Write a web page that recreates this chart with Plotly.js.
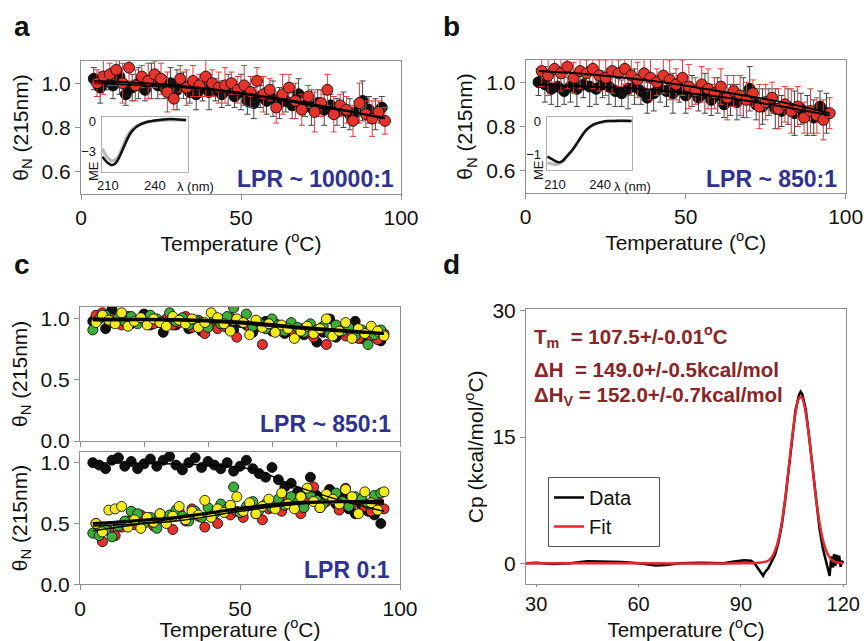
<!DOCTYPE html>
<html><head><meta charset="utf-8">
<script src="https://cdn.plot.ly/plotly-3.0.1.min.js"></script>
<style>html,body{margin:0;padding:0;background:#fff}#chart{width:864px;height:641px}</style>
</head><body><div id="chart"></div>
<script>
const FONT = 'Arial, "Liberation Sans", sans-serif';

// ---- temperatures (°C)
const T_EVEN = [4,6,8,10,12,14,16,18,20,22,24,26,28,30,32,34,36,38,40,42,44,46,48,50,52,54,56,58,60,62,64,66,68,70,72,74,76,78,80,82,84,86,88,90,92,94];
const T_ODD  = [5,7,9,11,13,15,17,19,21,23,25,27,29,31,33,35,37,39,41,43,45,47,49,51,53,55,57,59,61,63,65,67,69,71,73,75,77,79,81,83,85,87,89,91,93,95];

// ---- panel a (LPR ~ 10000:1)
const A_BLACK = [1.02,0.98,1.01,0.99,1.03,0.95,0.98,1.00,0.97,1.01,0.99,0.98,1.00,0.97,0.99,0.96,0.95,0.98,0.96,0.97,0.95,0.97,0.94,0.96,0.92,0.91,0.94,0.92,0.93,0.91,0.92,0.90,0.95,0.90,0.89,0.91,0.88,0.90,0.87,0.88,0.86,0.87,0.92,0.88,0.86,0.89];
const A_BLACK_ERR = [0.05,0.07,0.04,0.06,0.08,0.05,0.06,0.07,0.05,0.08,0.06,0.05,0.07,0.09,0.06,0.05,0.07,0.06,0.08,0.05,0.06,0.07,0.05,0.08,0.06,0.07,0.05,0.06,0.08,0.07,0.05,0.06,0.07,0.05,0.08,0.06,0.07,0.05,0.06,0.08,0.07,0.05,0.09,0.06,0.07,0.05];
const A_RED = [1.00,1.03,1.04,1.06,1.00,1.07,0.99,1.03,1.01,1.04,1.02,0.96,0.93,1.02,0.98,1.01,0.99,1.03,1.00,0.98,0.99,1.00,0.97,0.99,0.96,1.01,0.95,0.97,0.89,0.95,0.98,0.92,0.88,0.94,0.87,0.91,0.97,0.86,0.90,0.88,0.83,0.91,0.86,0.84,0.87,0.83];
const A_RED_ERR = [0.06,0.08,0.05,0.07,0.09,0.06,0.07,0.05,0.08,0.06,0.07,0.09,0.05,0.06,0.08,0.07,0.05,0.09,0.06,0.07,0.08,0.05,0.06,0.09,0.07,0.06,0.08,0.05,0.07,0.09,0.06,0.08,0.07,0.05,0.09,0.06,0.07,0.08,0.05,0.06,0.07,0.09,0.06,0.08,0.05,0.06];
const FIT_T6 = [4,20,40,60,80,95];
const A_FIT_1 = [1.01,1.00,0.975,0.935,0.885,0.84];
const A_FIT_2 = [1.00,0.99,0.97,0.93,0.88,0.845];

// inset a (CD spectra)
const INSET_A_WL = [206.5,208,210,212,214,216,218,220,222,224,226,228,230,233,236,240,245,250,255,260];
const INSET_A_BLACK = [-3.5,-3.8,-4.1,-4.3,-4.25,-3.9,-3.3,-2.6,-1.9,-1.3,-0.9,-0.6,-0.4,-0.2,-0.05,0.05,0.15,0.2,0.15,0.1];
const INSET_A_GRAY = [-2.7,-3.2,-3.6,-3.85,-3.85,-3.6,-3.0,-2.3,-1.6,-1.1,-0.75,-0.5,-0.35,-0.2,-0.1,0.0,0.05,0.1,0.1,0.05];

// ---- panel b (LPR ~ 850:1)
const B_BLACK = [1.00,0.99,0.97,0.98,0.96,0.98,0.97,0.99,0.98,0.97,0.99,0.98,0.96,0.95,0.97,0.98,0.96,0.93,0.95,0.97,0.96,0.95,0.97,0.94,0.96,0.93,0.95,0.92,0.94,0.90,0.92,0.91,0.93,0.97,0.90,0.89,0.91,0.88,0.87,0.89,0.86,0.88,0.85,0.84,0.89,0.86];
const B_BLACK_ERR = [0.06,0.08,0.07,0.09,0.06,0.07,0.08,0.06,0.09,0.07,0.06,0.08,0.07,0.06,0.09,0.08,0.06,0.07,0.08,0.06,0.07,0.09,0.06,0.08,0.07,0.06,0.09,0.07,0.08,0.06,0.07,0.08,0.09,0.10,0.07,0.08,0.06,0.09,0.07,0.08,0.10,0.07,0.09,0.08,0.07,0.09];
const B_RED = [1.05,1.03,1.06,1.04,1.07,1.02,1.05,1.04,1.06,1.03,1.02,1.05,1.04,1.06,1.03,1.01,1.04,1.02,1.00,1.03,1.01,0.99,1.02,0.98,0.96,0.99,0.97,0.95,0.98,0.93,0.96,0.94,0.92,0.95,0.89,0.91,0.93,0.88,0.90,0.87,0.89,0.84,0.87,0.85,0.83,0.86];
const B_RED_ERR = [0.07,0.09,0.06,0.08,0.10,0.07,0.08,0.06,0.09,0.07,0.08,0.10,0.06,0.07,0.09,0.08,0.07,0.10,0.06,0.08,0.09,0.07,0.08,0.10,0.06,0.08,0.09,0.07,0.08,0.10,0.07,0.09,0.08,0.06,0.10,0.08,0.07,0.09,0.08,0.10,0.09,0.07,0.10,0.08,0.09,0.07];
const B_FIT_RED = [1.05,1.035,1.005,0.96,0.91,0.86];
const B_FIT_BLACK = [0.99,0.98,0.965,0.935,0.89,0.85];

// inset b
const INSET_B_WL = [205,207,209,211,213,215,217,219,221,223,225,227,229,231,234,237,241,245,250,255,261];
const INSET_B_BLACK = [-1.07,-1.12,-1.17,-1.22,-1.24,-1.2,-1.1,-1.0,-0.9,-0.78,-0.64,-0.5,-0.37,-0.26,-0.15,-0.08,-0.03,0.0,0.0,0.01,0.0];
const INSET_B_GRAY = [-1.25,-1.28,-1.3,-1.3,-1.28,-1.22,-1.12,-1.02,-0.91,-0.79,-0.65,-0.51,-0.38,-0.27,-0.16,-0.09,-0.04,-0.01,0.0,0.0,0.0];

// ---- panel c top (LPR ~ 850:1)
const C1_BLACK = [0.98,1.02,0.92,1.08,0.97,1.00,0.96,0.99,1.04,0.95,0.97,0.89,1.01,0.95,0.98,0.92,0.97,0.90,0.94,0.96,0.99,0.93,0.91,0.97,0.95,0.89,0.94,0.98,0.90,0.92,0.88,0.95,0.91,0.87,0.93,0.81,0.89,1.00,0.85,0.90,0.87,0.98,0.84,0.89,0.86,0.82];
const C1_RED = [1.03,1.05,0.98,1.00,0.95,1.02,0.97,0.99,1.01,0.96,0.98,1.00,0.95,0.97,1.02,0.93,0.99,0.88,0.96,0.92,0.94,1.01,0.85,0.97,0.93,0.95,0.79,0.92,0.96,0.90,0.94,0.87,0.92,0.89,0.85,0.91,0.79,0.88,0.93,0.86,0.90,0.84,0.89,0.86,0.83,0.88];
const C1_GREEN = [0.91,1.00,1.03,0.97,1.01,0.98,1.02,0.96,0.99,1.03,1.00,0.97,1.05,0.98,1.01,0.95,0.99,0.97,0.93,1.00,0.96,1.02,1.09,0.98,1.04,0.94,0.97,0.92,1.00,0.95,0.90,0.97,0.93,0.89,0.96,0.91,0.94,0.88,0.95,0.90,0.93,0.86,0.91,0.79,0.87,0.91];
const C1_YELLOW = [0.97,1.03,0.99,0.96,1.05,0.94,0.98,1.01,0.95,1.00,0.97,0.94,1.02,0.99,0.96,1.00,0.93,0.97,1.05,1.01,0.96,0.90,1.00,0.97,0.87,0.99,0.93,0.96,0.89,0.95,0.92,0.84,0.90,0.94,0.88,0.92,1.00,0.86,0.90,0.97,0.84,0.92,0.88,0.94,0.90,0.86];
const FIT_T5 = [4,30,50,70,95];
const C1_FIT_1 = [1.00,0.995,0.975,0.93,0.88];
const C1_FIT_2 = [0.985,0.985,0.96,0.915,0.875];

// ---- panel c bottom (LPR 0:1)
const C2_BLACK = [1.00,0.98,0.95,1.02,1.04,0.97,1.01,0.95,0.99,1.03,0.97,1.02,1.05,0.98,0.94,1.00,1.04,0.96,1.01,0.98,0.95,1.00,0.93,0.97,1.02,0.95,0.91,0.88,0.96,0.86,0.80,0.83,0.76,0.72,0.88,0.73,0.70,0.78,0.66,0.72,0.62,0.58,0.65,0.60,0.57,0.50];
const C2_RED = [0.50,0.35,0.44,0.40,0.47,0.52,0.49,0.57,0.53,0.48,0.58,0.55,0.45,0.60,0.52,0.62,0.56,0.47,0.59,0.50,0.63,0.57,0.60,0.55,0.65,0.58,0.53,0.62,0.67,0.60,0.71,0.64,0.58,0.69,0.80,0.63,0.68,0.72,0.61,0.79,0.66,0.70,0.64,0.60,0.68,0.62];
const C2_GREEN = [0.42,0.40,0.45,0.39,0.48,0.52,0.60,0.58,0.50,0.55,0.46,0.53,0.57,0.61,0.56,0.52,0.60,0.55,0.63,0.58,0.66,0.62,0.80,0.59,0.64,0.68,0.61,0.66,0.63,0.70,0.65,0.72,0.67,0.63,0.74,0.69,0.66,0.71,0.75,0.68,0.64,0.72,0.70,0.66,0.73,0.75];
const C2_YELLOW = [0.50,0.43,0.61,0.62,0.64,0.47,0.53,0.46,0.55,0.51,0.58,0.50,0.56,0.64,0.53,0.60,0.57,0.69,0.55,0.62,0.59,0.65,0.72,0.60,0.67,0.58,0.64,0.70,0.62,0.75,0.66,0.62,0.72,0.79,0.68,0.63,0.74,0.70,0.66,0.78,0.72,0.58,0.76,0.67,0.61,0.76];
const C2_FIT_1 = [0.50,0.55,0.62,0.67,0.68];
const C2_FIT_2 = [0.44,0.54,0.63,0.68,0.66];
const C2_FIT_3 = [0.48,0.52,0.60,0.665,0.69];
const C2_BLACK_FIT_T = [4,40,55,65,80,95];
const C2_BLACK_FIT = [1.00,0.98,0.94,0.83,0.70,0.60];

// ---- panel d (DSC)
const DSC_T = [27,30,35,40,45,50,55,60,65,68,72,78,85,88,91,93,94,95,96,96.5,97,98,99,100,101,102,103,104,105,106,107,107.5,108,109,110,111,112,113,114,115,115.5,116,116.5,117,117.3,117.7,118,118.4,118.8,119.2,119.6,120];
const DSC_CP = [0,0.05,-0.1,0,0.25,0.2,0.15,0,-0.25,-0.2,0,0.05,0,0.2,0.35,0.3,0,-0.6,-1.2,-1.5,-1.1,-0.6,0.2,1.0,2.5,4.6,7.6,11.2,15.0,18.2,20.0,20.4,20.1,18.3,15.0,11.2,7.5,4.2,1.8,0.2,-0.8,-1.5,0.8,-0.5,1.1,-0.3,1.0,0.2,0.9,-0.4,0.3,0];
const FIT_TD = [27,60,90,96,98,99,100,101,102,103,104,105,106,107,107.5,108,109,110,111,112,113,114,115,116,117,118,120];
const FIT_CP = [0,0,0,0.1,0.3,0.7,1.5,2.8,4.9,7.8,11.3,14.9,17.9,19.6,19.8,19.6,17.9,14.9,11.3,7.8,4.9,2.8,1.5,0.7,0.3,0.1,0];
const LEGEND_NAMES = ['Data', 'Fit'];

// ---- colours
const RED = '#E5322B', BLACK = '#111111', GREEN = '#3EAE3A', YELLOW = '#F3EA1C';

function pts(x, y, color, xa, ya, size, err, errColor) {
  const t = {type:'scatter', mode:'markers', x:x, y:y, xaxis:xa, yaxis:ya, showlegend:false, hoverinfo:'skip',
    marker:{color:color, size:size, line:{color:'#000', width:0.8}}};
  if (err) t.error_y = {type:'data', array:err, visible:true, color:errColor, thickness:1, width:3};
  return t;
}
function line(x, y, xa, ya, w, color) {
  return {type:'scatter', mode:'lines', x:x, y:y, xaxis:xa, yaxis:ya, showlegend:false, hoverinfo:'skip',
    line:{color:color || '#000', width:w, shape:'spline'}};
}
const PAD = '\u00a0\u00a0\u00a0\u00a0';

const traces = [
  // a
  pts(T_EVEN, A_BLACK, BLACK, 'x', 'y', 11, A_BLACK_ERR, '#444'),
  pts(T_ODD, A_RED, RED, 'x', 'y', 11, A_RED_ERR, '#E53935'),
  line(FIT_T6, A_FIT_1, 'x', 'y', 2),
  line(FIT_T6, A_FIT_2, 'x', 'y', 1.5),
  line(INSET_A_WL, INSET_A_GRAY, 'x2', 'y2', 3, '#b8b8b8'),
  line(INSET_A_WL, INSET_A_BLACK, 'x2', 'y2', 2.5, '#111'),
  // b
  pts(T_EVEN, B_BLACK, BLACK, 'x3', 'y3', 11, B_BLACK_ERR, '#444'),
  pts(T_ODD, B_RED, RED, 'x3', 'y3', 11, B_RED_ERR, '#E53935'),
  line(FIT_T6, B_FIT_RED, 'x3', 'y3', 2),
  line(FIT_T6, B_FIT_BLACK, 'x3', 'y3', 2),
  line(INSET_B_WL, INSET_B_GRAY, 'x4', 'y4', 3, '#b8b8b8'),
  line(INSET_B_WL, INSET_B_BLACK, 'x4', 'y4', 2.5, '#111'),
  // c top
  pts(T_EVEN, C1_BLACK, BLACK, 'x5', 'y5', 10),
  pts(T_ODD, C1_RED, RED, 'x5', 'y5', 10),
  pts(T_EVEN, C1_GREEN, GREEN, 'x5', 'y5', 10),
  pts(T_ODD, C1_YELLOW, YELLOW, 'x5', 'y5', 10),
  line(FIT_T5, C1_FIT_1, 'x5', 'y5', 3),
  line(FIT_T5, C1_FIT_2, 'x5', 'y5', 1.5),
  // c bottom
  pts(T_EVEN, C2_BLACK, BLACK, 'x6', 'y6', 10),
  pts(T_ODD, C2_RED, RED, 'x6', 'y6', 10),
  pts(T_EVEN, C2_GREEN, GREEN, 'x6', 'y6', 10),
  pts(T_ODD, C2_YELLOW, YELLOW, 'x6', 'y6', 10),
  line(FIT_T5, C2_FIT_1, 'x6', 'y6', 3),
  line(FIT_T5, C2_FIT_2, 'x6', 'y6', 1.5),
  line(FIT_T5, C2_FIT_3, 'x6', 'y6', 1.5),
  line(C2_BLACK_FIT_T, C2_BLACK_FIT, 'x6', 'y6', 1.5),
  // d
  {type:'scatter', mode:'lines', name:LEGEND_NAMES[0] + PAD, x:DSC_T, y:DSC_CP, xaxis:'x7', yaxis:'y7', line:{color:'#000', width:2.5}, hoverinfo:'skip'},
  {type:'scatter', mode:'lines', name:LEGEND_NAMES[1], x:FIT_TD, y:FIT_CP, xaxis:'x7', yaxis:'y7', line:{color:'#E8262B', width:2.5, shape:'spline'}, hoverinfo:'skip'}
];

const FRAME = '#8f8f8f';
function ax(domain, range, opts) {
  return Object.assign({domain:domain, range:range, showline:true, linecolor:FRAME, linewidth:1, mirror:true,
    showgrid:false, zeroline:false, ticks:'outside', ticklen:5, tickcolor:FRAME,
    tickfont:{family:FONT, size:21, color:'#111'}, fixedrange:true}, opts);
}
function inset(domain, range, tickvals, opts) {
  return Object.assign({domain:domain, range:range, showline:true, linecolor:'#b0b0b0', linewidth:1, mirror:true,
    showgrid:false, zeroline:false, ticks:'', tickvals:tickvals, ticklabelstandoff:2,
    tickfont:{family:FONT, size:13, color:'#111'}, fixedrange:true}, opts);
}
const TEMP_TITLE = {text:'Temperature (<sup>o</sup>C)', font:{family:FONT, size:21, color:'#111'}, standoff:0};
const TEMP_TITLE_D = {text:'Temperature (<sup>o</sup>C)', font:{family:FONT, size:20.5, color:'#111'}, standoff:4};
const THETA_TITLE = {text:'θ<sub>N</sub> (215nm)', font:{family:FONT, size:21, color:'#111'}, standoff:7};

const PX = v => v / 864, PY = v => 1 - v / 641;

function ann(text, x, y, size, color, xanchor, extra) {
  return Object.assign({text:text, xref:'paper', yref:'paper', x:PX(x), y:PY(y), showarrow:false,
    xanchor:xanchor || 'left', yanchor:'middle', font:{family:FONT, size:size, color:color || '#111'}}, extra);
}
const LPR = '#2E3192', DRED = '#8B2424';

const layout = {
  width:864, height:641, margin:{l:0, r:0, t:0, b:0}, paper_bgcolor:'#fff', plot_bgcolor:'rgba(0,0,0,0)',
  font:{family:FONT, color:'#111'},
  xaxis: ax([PX(81), PX(401)], [0, 100], {dtick:50, anchor:'y', title:TEMP_TITLE}),
  yaxis: ax([PY(194), PY(61)], [0.5, 1.1], {tickvals:[0.6,0.8,1.0], tickformat:'.1f', anchor:'x', title:THETA_TITLE}),
  xaxis2: inset([PX(101.7), PX(187.7)], [206, 261], [210, 240], {anchor:'y2'}),
  yaxis2: inset([PY(171.7), PY(116.7)], [-4.96, 0.42], [0, -3], {anchor:'x2'}),
  xaxis3: ax([PX(525.7), PX(845.7)], [0, 100], {dtick:50, anchor:'y3', title:TEMP_TITLE}),
  yaxis3: ax([PY(193), PY(60)], [0.5, 1.1], {tickvals:[0.6,0.8,1.0], tickformat:'.1f', anchor:'x3', title:THETA_TITLE}),
  xaxis4: inset([PX(546.7), PX(631.7)], [204.5, 261], [210, 240], {anchor:'y4'}),
  yaxis4: inset([PY(170), PY(116.7)], [-1.47, 0.13], [0, -1], {anchor:'x4'}),
  xaxis5: ax([PX(80), PX(400)], [0, 100], {dtick:20, showticklabels:false, anchor:'y5'}),
  yaxis5: ax([PY(441), PY(306.7)], [0, 1.1], {tickvals:[0,0.5,1.0], tickformat:'.1f', anchor:'x5', title:THETA_TITLE}),
  xaxis6: ax([PX(80), PX(400)], [0, 100], {dtick:50, anchor:'y6', title:TEMP_TITLE}),
  yaxis6: ax([PY(584.3), PY(451.7)], [0, 1.09], {tickvals:[0,0.5,1.0], tickformat:'.1f', anchor:'x6', title:THETA_TITLE}),
  xaxis7: ax([PX(526), PX(846)], [27, 120.8], {tickvals:[30,60,90,120], ticklen:2, anchor:'y7', title:TEMP_TITLE_D,
    tickfont:{family:FONT, size:20, color:'#111'}}),
  yaxis7: ax([PY(584.3), PY(309.3)], [-2.5, 30.2], {tickvals:[0,15,30], anchor:'x7',
    title:{text:'Cp (kcal/mol/<sup>o</sup>C)', font:{family:FONT, size:21, color:'#111'}, standoff:3}}),
  showlegend:true,
  legend:{x:PX(548), y:PY(477), xanchor:'left', yanchor:'top', bgcolor:'#fff', bordercolor:'#555', borderwidth:1,
    font:{family:FONT, size:20, color:'#111'}, tracegroupgap:0},
  annotations:[
    ann('<b>a</b>', 12, 27, 28),
    ann('<b>b</b>', 441, 27, 28),
    ann('<b>c</b>', 12, 264, 28),
    ann('<b>d</b>', 441, 264, 28),
    ann('<b>LPR ~ 10000:1</b>', 396, 178.5, 23, LPR, 'right'),
    ann('<b>LPR ~ 850:1</b>', 839, 178.5, 23, LPR, 'right'),
    ann('<b>LPR ~ 850:1</b>', 393, 424.5, 23, LPR, 'right'),
    ann('<b>LPR 0:1</b>', 392, 569.5, 23, LPR, 'right'),
    ann('λ (nm)', 175, 186, 13),
    ann('λ (nm)', 612, 186, 13),
    ann('ME', 93, 171, 13, '#111', 'center', {textangle:-90}),
    ann('ME', 538, 170, 13, '#111', 'center', {textangle:-90}),
    ann('<b>T<sub>m</sub>  = 107.5+/-0.01<sup>o</sup>C</b>', 532, 336, 20.5, DRED),
    ann('<b>ΔH  = 149.0+/-0.5kcal/mol</b>', 532, 369, 20.5, DRED),
    ann('<b>ΔH<sub>V</sub> = 152.0+/-0.7kcal/mol</b>', 532, 396, 20.5, DRED)
  ]
};

Plotly.newPlot('chart', traces, layout, {staticPlot:true, displayModeBar:false});
</script>
</body></html>
